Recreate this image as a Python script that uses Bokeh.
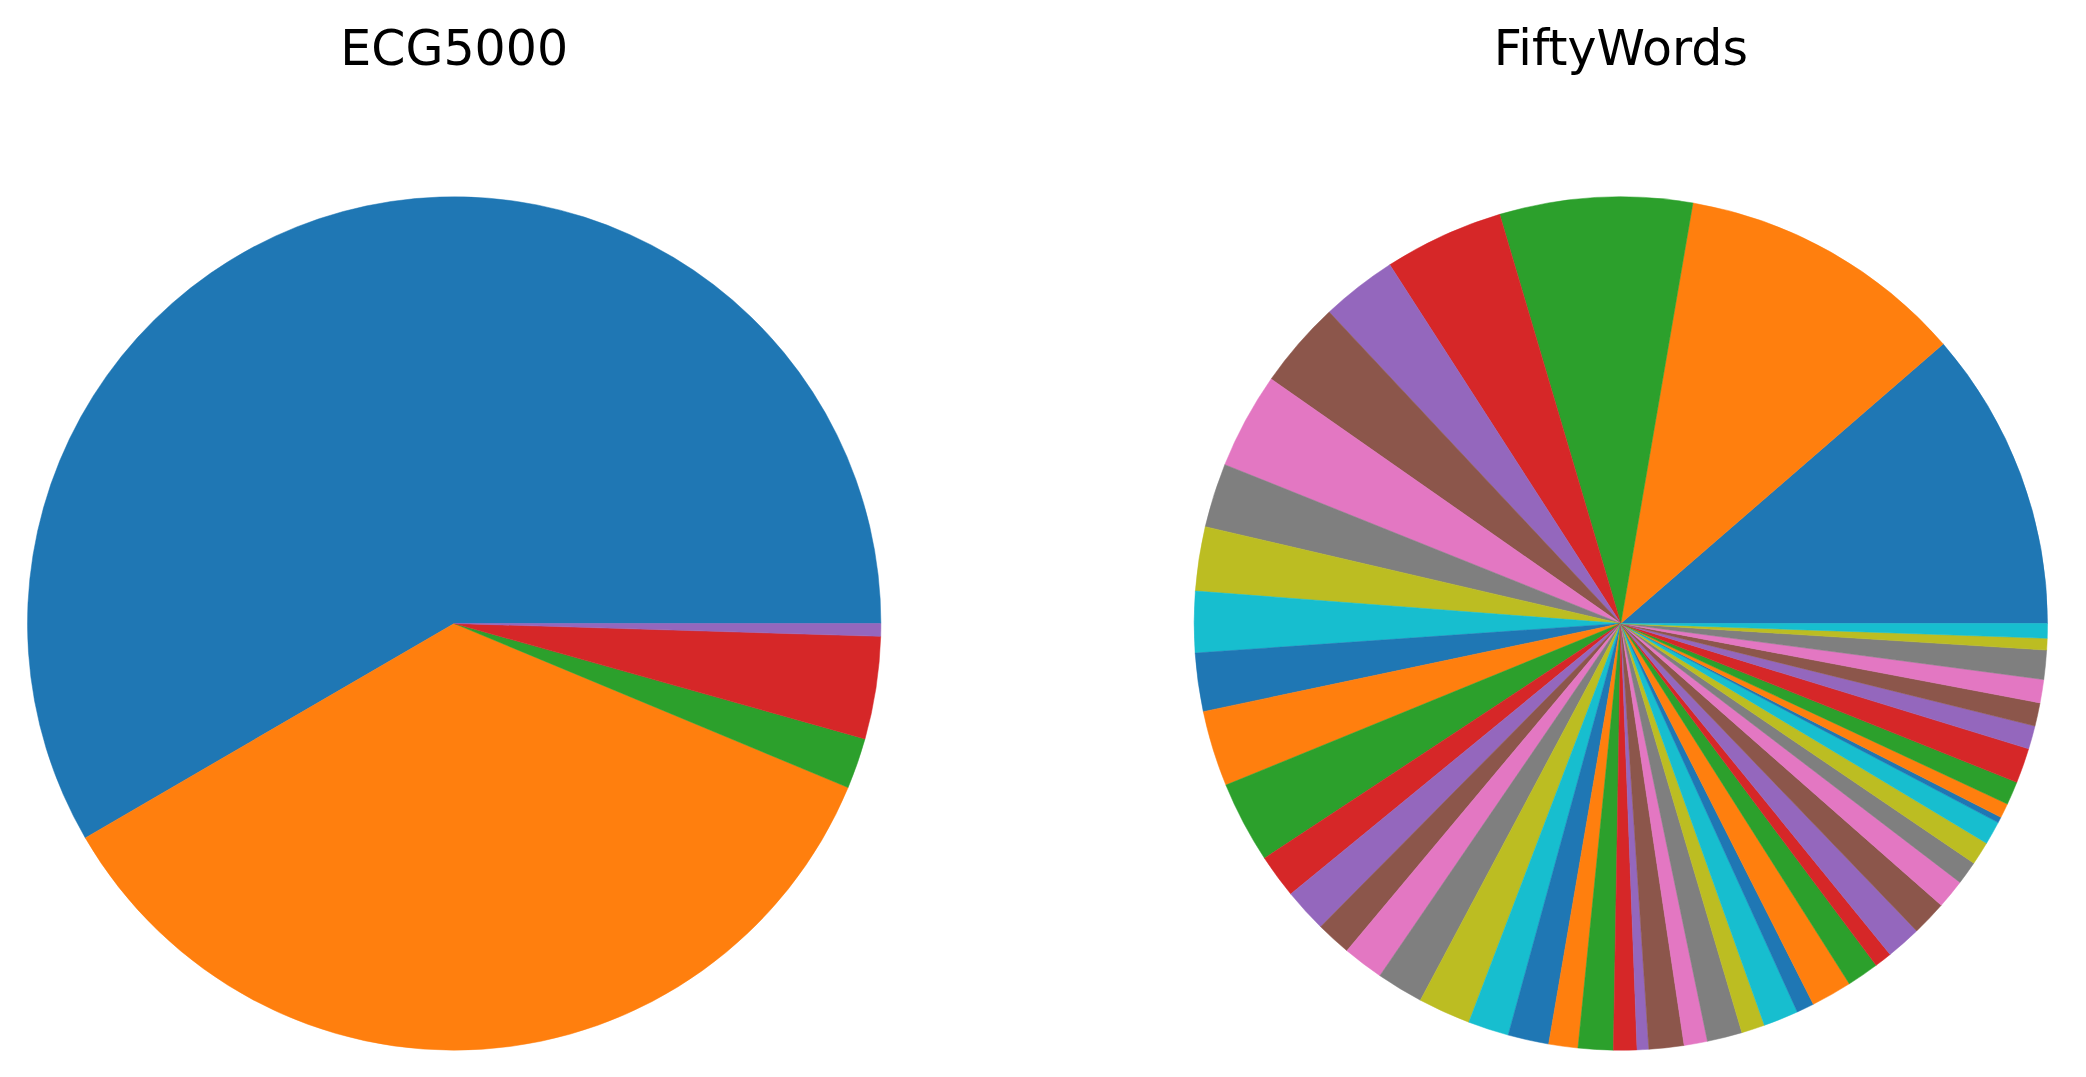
import numpy as np
from bokeh.plotting import figure
from bokeh.models import Range1d, ColumnDataSource
from bokeh.core.properties import value
from bokeh.embed import file_html
from bokeh.resources import INLINE

# ---- data ----
titles = ["ECG5000", "FiftyWords"]

ecg_classes = ["1", "2", "3", "4", "5"]
ecg_counts = [2919, 1767, 96, 194, 24]

fifty_classes = [str(i) for i in range(1, 51)]
fifty_counts = [103, 99, 66, 41, 26, 30, 33, 22, 22, 21,
                20, 26, 28, 15, 15, 12, 14, 16, 18, 14,
                14, 10, 12, 8, 4, 12, 8, 12, 8, 12,
                6, 14, 11, 6, 12, 12, 10, 8, 8, 8,
                2, 5, 8, 12, 8, 8, 8, 10, 4, 5]

palette = ["#1f77b4", "#ff7f0e", "#2ca02c", "#d62728", "#9467bd",
           "#8c564b", "#e377c2", "#7f7f7f", "#bcbd22", "#17becf"]

W, H = 2070, 1061
p = figure(width=W, height=H, x_range=Range1d(0, W), y_range=Range1d(0, H),
           output_backend="svg", toolbar_location=None,
           x_axis_location=None, y_axis_location=None, min_border=0)
p.grid.visible = False
p.outline_line_color = None
p.background_fill_color = "white"
p.border_fill_color = "white"

centers_x = [453.7, 1620.3]
center_y = 438.0
radius = 426.7


def pie(counts, classes, cx):
    vals = np.array(counts, dtype=float)
    frac = vals / vals.sum()
    ends = np.cumsum(frac) * 2 * np.pi
    starts = np.concatenate([[0.0], ends[:-1]])
    colors = [palette[i % 10] for i in range(len(vals))]
    src = ColumnDataSource(dict(start=starts, end=ends, color=colors,
                                cls=classes, count=counts))
    p.wedge(x=cx, y=center_y, radius=radius, start_angle="start", end_angle="end",
            fill_color="color", line_color="color", line_width=0.5, source=src)


pie(ecg_counts, ecg_classes, centers_x[0])
pie(fifty_counts, fifty_classes, centers_x[1])

p.text(x=centers_x, y=[1013, 1013], text=titles, text_align="center",
       text_baseline="alphabetic", text_font=value("DejaVu Sans"),
       text_font_size="49px", text_color="black")

open("out.html", "w").write(file_html(p, INLINE))
